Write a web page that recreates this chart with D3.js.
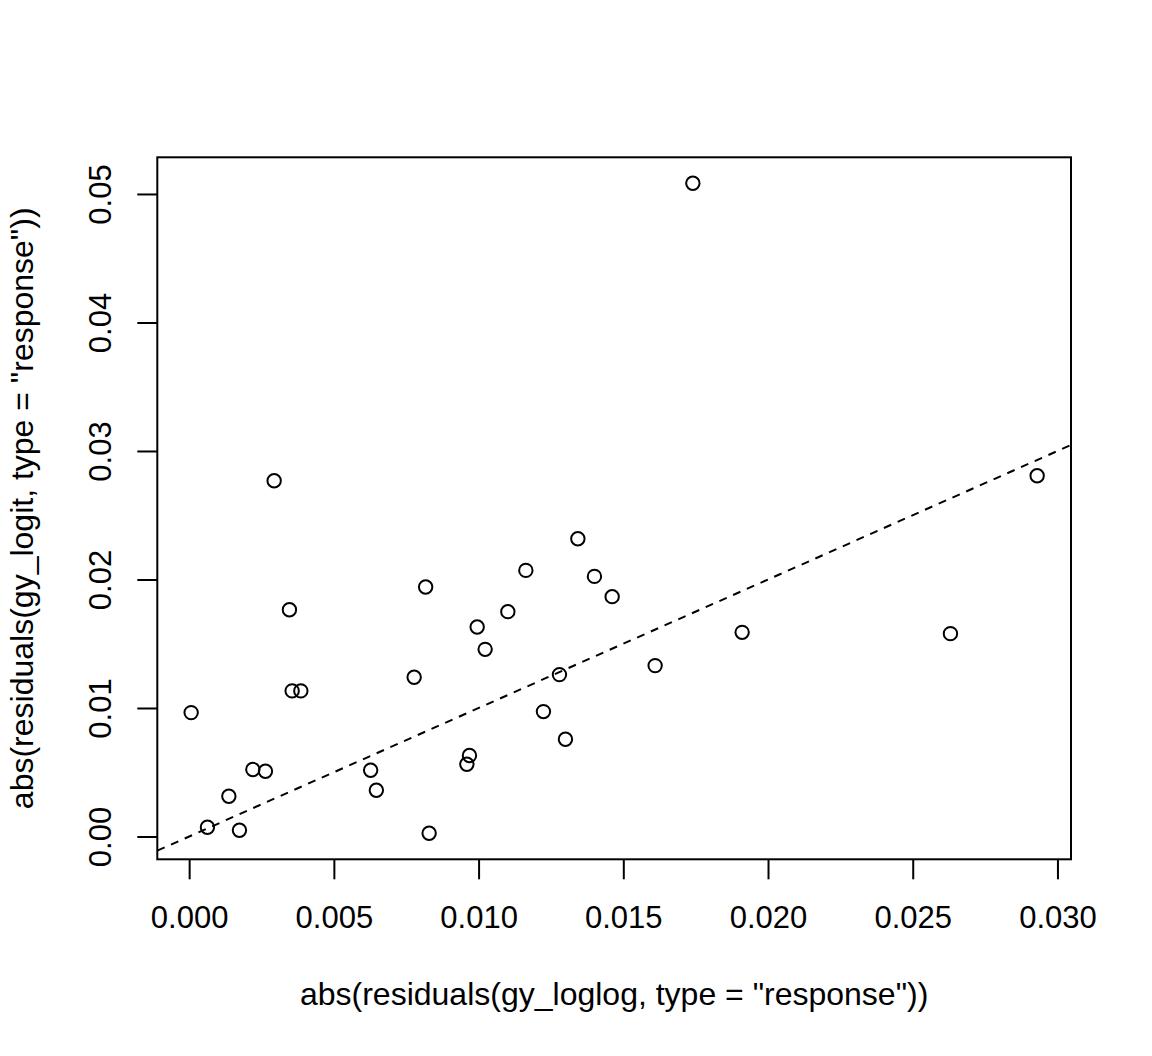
<!DOCTYPE html>
<html>
<head>
<meta charset="utf-8">
<script src="https://cdn.jsdelivr.net/npm/d3@7"></script>
<style>
  body { margin: 0; background: #fff; }
  svg { display: block; }
  text { font-family: "Liberation Sans", Arial, Helvetica, sans-serif; fill: #000; }
</style>
</head>
<body>
<svg id="chart"></svg>
<script>
// residuals
const loglogRes = [0.000069, 0.000632, 0.001372, 0.001738, 0.002201, 0.002636, 0.002937, 0.003465,
                   0.003559, 0.003859, 0.006271, 0.006468, 0.007774, 0.008171, 0.008292, 0.009595,
                   0.009685, 0.009951, 0.010227, 0.011011, 0.011633, 0.012241, 0.012794, 0.013001,
                   0.013430, 0.014003, 0.014615, 0.016100, 0.017403, 0.019106, 0.026303, 0.029299]
const logitRes  = [0.00964, 0.000723, 0.003134, 0.00049, 0.00521, 0.005078, 0.02768, 0.01765,
                   0.01133, 0.01133, 0.005156, 0.0036, 0.012387, 0.019417, 0.000249, 0.005622,
                   0.006299, 0.016306, 0.014565, 0.017496, 0.020708, 0.00972, 0.012597, 0.007566,
                   0.023173, 0.020241, 0.018663, 0.013297, 0.05083, 0.015887, 0.015785, 0.028072]

const xTicks = [0, 0.005, 0.010, 0.015, 0.020, 0.025, 0.030]
const yTicks = [0, 0.01, 0.02, 0.03, 0.04, 0.05]

const xLab = 'abs(residuals(gy_loglog, type = "response"))'
const yLab = 'abs(residuals(gy_logit, type = "response"))'

const width = 1152
const height = 1056
const box = { left: 157.3, right: 1071, top: 157.3, bottom: 859.3 }
const lw = 2

const points = loglogRes.map((d, i) => ({ x: d, y: logitRes[i] }))

// R style: data range padded by 4% each side
const pad = (lo, hi) => [lo - 0.04 * (hi - lo), hi + 0.04 * (hi - lo)]
const xScale = d3.scaleLinear()
    .domain(pad(d3.min(loglogRes), d3.max(loglogRes)))
    .range([box.left, box.right])
const yScale = d3.scaleLinear()
    .domain(pad(d3.min(logitRes), d3.max(logitRes)))
    .range([box.bottom, box.top])

const svg = d3.select('#chart')
    .attr('width', width)
    .attr('height', height)

svg.append('defs').append('clipPath').attr('id', 'plotClip')
    .append('rect')
    .attr('x', box.left).attr('y', box.top)
    .attr('width', box.right - box.left).attr('height', box.bottom - box.top)

// abline(0, 1), dashed
const xd = xScale.domain()
svg.append('line')
    .attr('clip-path', 'url(#plotClip)')
    .attr('x1', xScale(xd[0])).attr('y1', yScale(xd[0]))
    .attr('x2', xScale(xd[1])).attr('y2', yScale(xd[1]))
    .attr('stroke', '#000')
    .attr('stroke-width', lw)
    .attr('stroke-dasharray', '8,7')

// open circles
svg.append('g').selectAll('circle')
    .data(points)
    .enter().append('circle')
    .attr('cx', d => xScale(d.x))
    .attr('cy', d => yScale(d.y))
    .attr('r', 6.7)
    .attr('fill', 'none')
    .attr('stroke', '#000')
    .attr('stroke-width', lw)

// box
svg.append('rect')
    .attr('x', box.left).attr('y', box.top)
    .attr('width', box.right - box.left).attr('height', box.bottom - box.top)
    .attr('fill', 'none')
    .attr('stroke', '#000')
    .attr('stroke-width', lw)

// x axis
const xAxis = svg.append('g')
    .attr('transform', `translate(0, ${box.bottom})`)
    .call(d3.axisBottom(xScale).tickValues(xTicks).tickFormat(d3.format('.3f')).tickSize(20))
xAxis.select('.domain').remove()
xAxis.selectAll('.tick line').attr('stroke-width', lw)
xAxis.selectAll('.tick text')
    .attr('dy', null)
    .attr('y', 69)
    .attr('font-size', 31)
    .attr('font-family', null)

// y axis, labels parallel to axis like R
const yAxis = svg.append('g')
    .attr('transform', `translate(${box.left}, 0)`)
    .call(d3.axisLeft(yScale).tickValues(yTicks).tickFormat(d3.format('.2f')).tickSize(20))
yAxis.select('.domain').remove()
yAxis.selectAll('.tick line').attr('stroke-width', lw)
yAxis.selectAll('.tick text')
    .attr('x', null)
    .attr('dy', null)
    .attr('text-anchor', 'middle')
    .attr('transform', 'translate(-46, 0) rotate(-90)')
    .attr('font-size', 31)
    .attr('font-family', null)

// axis titles
svg.append('text')
    .attr('x', (box.left + box.right) / 2)
    .attr('y', 1005)
    .attr('text-anchor', 'middle')
    .attr('font-size', 32)
    .text(xLab)

svg.append('text')
    .attr('transform', `translate(33, ${(box.top + box.bottom) / 2}) rotate(-90)`)
    .attr('text-anchor', 'middle')
    .attr('font-size', 32)
    .text(yLab)
</script>
</body>
</html>
